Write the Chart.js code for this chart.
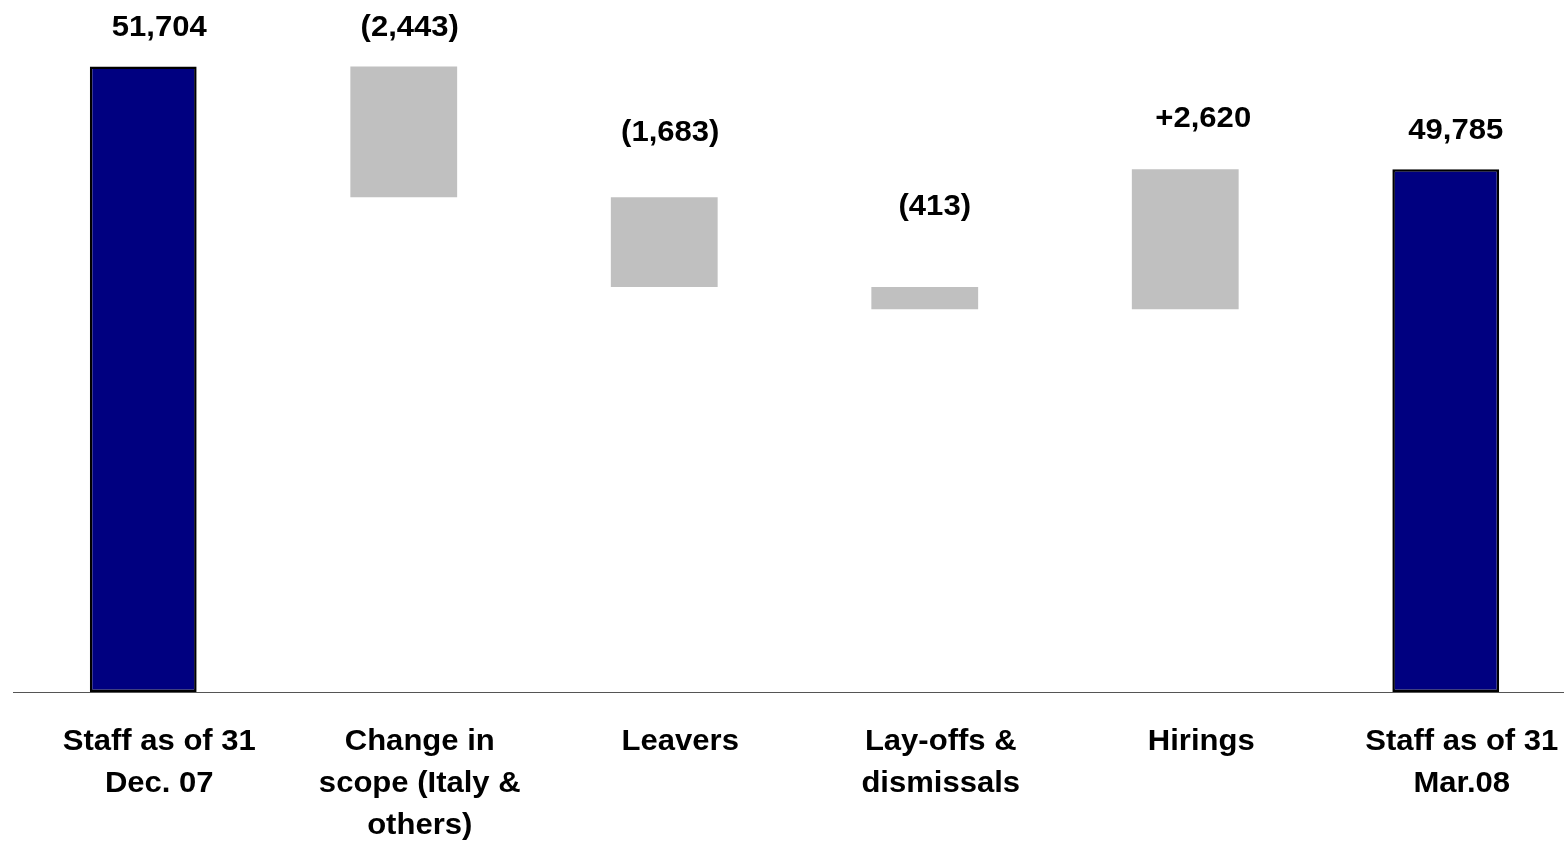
<!DOCTYPE html>
<html>
<head>
<meta charset="utf-8">
<title>Staff movements</title>
<script src="https://cdn.jsdelivr.net/npm/chart.js"></script>
<style>
  html, body { margin: 0; padding: 0; background: #fff; overflow: hidden; }
  #wrap { position: relative; width: 1578px; height: 843px; }
</style>
</head>
<body>
<div id="wrap"><canvas id="staffChart"></canvas></div>
<script>
// categories (one array of lines per column)
const categories = [
    ['Staff as of 31', 'Dec. 07'],
    ['Change in', 'scope (Italy &', 'others)'],
    ['Leavers'],
    ['Lay-offs &', 'dismissals'],
    ['Hirings'],
    ['Staff as of 31', 'Mar.08']
];
const staffOpening = 51704;
const movements = [-2443, -1683, -413, 2620];
const staffClosing = 49785;
const valueLabels = ['51,704', '(2,443)', '(1,683)', '(413)', '+2,620', '49,785'];
const axisMin = 40000;
const axisMax = 52950;

// label placement: px above the top of each bar, and small x nudges
const labelGap = [39, 39, 64, 80, 50, 38];
const labelShift = [16, 6, 6, 10, 18, 10];
const catShift = 16;
const textStretch = 1.07;
const textFont = "bold 29px 'Liberation Sans', Arial, sans-serif";

// floating ranges: totals from the axis floor, movements from the running total
const ranges = [[axisMin, staffOpening]];
let running = staffOpening;
movements.forEach(m => {
    ranges.push([running, running + m]);
    running += m;
});
ranges.push([axisMin, staffClosing]);

const isTotal = [true, false, false, false, false, true];

function stretchedText(ctx, text, x, y) {
    ctx.save();
    ctx.translate(x, y);
    ctx.scale(textStretch, 1);
    ctx.fillText(text, 0, 0);
    ctx.restore();
}

const labelPlugin = {
    id: 'waterfallLabels',
    afterDraw(chart) {
        const ctx = chart.ctx;
        const bars = chart.getDatasetMeta(0).data;
        ctx.save();
        ctx.font = textFont;
        ctx.fillStyle = '#000';
        ctx.textAlign = 'center';
        ctx.textBaseline = 'middle';
        bars.forEach((bar, i) => {
            const top = Math.min(bar.y, bar.base);
            stretchedText(ctx, valueLabels[i], bar.x + labelShift[i], top - labelGap[i]);
            categories[i].forEach((line, j) => {
                stretchedText(ctx, line, bar.x + catShift, chart.chartArea.bottom + 50 + j * 42);
            });
        });
        ctx.restore();
    }
};

new Chart(document.getElementById('staffChart'), {
    type: 'bar',
    data: {
        labels: categories.map(c => c.join(' ')),
        datasets: [{
            data: ranges,
            backgroundColor: isTotal.map(t => t ? '#000080' : '#c0c0c0'),
            borderColor: isTotal.map(t => t ? '#000000' : 'rgba(0,0,0,0)'),
            borderWidth: isTotal.map(t => t ? 2.5 : 0),
            borderSkipped: false,
            barPercentage: 0.41,
            categoryPercentage: 1
        }]
    },
    options: {
        responsive: true,
        maintainAspectRatio: false,
        animation: false,
        layout: { padding: { left: 13, right: 2, top: 0, bottom: 143 } },
        plugins: {
            legend: { display: false },
            tooltip: { enabled: false }
        },
        scales: {
            x: {
                grid: { display: false },
                border: { display: true, color: '#555', width: 1 },
                ticks: { display: false }
            },
            y: {
                display: false,
                min: axisMin,
                max: axisMax
            }
        }
    },
    plugins: [labelPlugin]
});
</script>
</body>
</html>
